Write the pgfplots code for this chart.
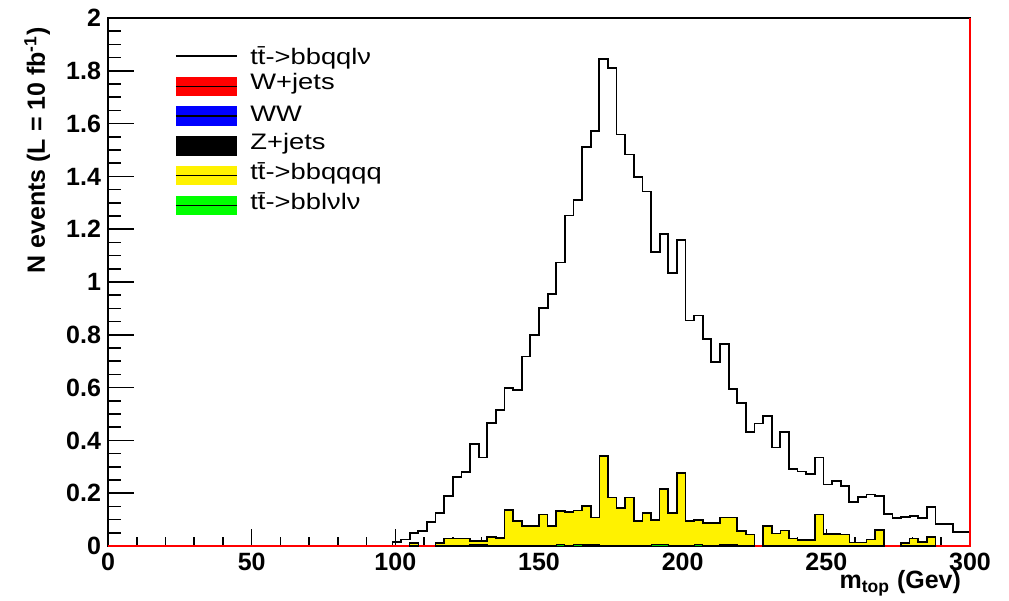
\documentclass[border=0pt]{standalone}
\usepackage{fontspec}
\setmainfont{Liberation Sans}
\newfontfamily\legendfont[FakeStretch=1.22]{Liberation Sans}
\usepackage{pgfplots}
\pgfplotsset{compat=1.18}
\usepackage{pgfplotstable}

% signal: tt -> bbqqlv, 3 GeV bins (left edge, content)
\pgfplotstableread{
x y
96 0
99 0.016
102 0.025
105 0.050
108 0.057
111 0.092
114 0.124
117 0.189
120 0.260
123 0.279
126 0.387
129 0.335
132 0.466
135 0.514
138 0.600
141 0.590
144 0.718
147 0.799
150 0.901
153 0.955
156 1.074
159 1.252
162 1.311
165 1.511
168 1.572
171 1.846
174 1.812
177 1.559
180 1.483
183 1.399
186 1.343
189 1.113
192 1.182
195 1.033
198 1.160
201 0.854
204 0.873
207 0.785
210 0.697
213 0.766
216 0.596
219 0.541
222 0.432
225 0.464
228 0.493
231 0.373
234 0.432
237 0.292
240 0.282
243 0.272
246 0.335
249 0.233
252 0.246
255 0.227
258 0.167
261 0.186
264 0.195
267 0.189
270 0.120
273 0.105
276 0.111
279 0.115
282 0.105
285 0.149
288 0.083
291 0.083
294 0.054
297 0.054
300 0.054
300 0
}\signal

\begin{document}
\begin{tikzpicture}
\useasboundingbox (-54pt,-27.5pt) rectangle (450.5pt,273pt);
\begin{axis}[
  width=431pt, height=264pt, scale only axis,
  xmin=0, xmax=300, ymin=0, ymax=2,
  xtick={0,50,100,150,200,250,300}, minor x tick num=4,
  ytick={0,0.2,0.4,0.6,0.8,1,1.2,1.4,1.6,1.8,2}, minor y tick num=3,
  tick align=inside, tick pos=left,
  axis line style={black, line width=1pt},
  tick style={black, line width=0.8pt},
  xtick style={/pgfplots/major tick length=8.5pt, /pgfplots/minor tick length=4.5pt},
  ytick style={/pgfplots/major tick length=13pt, /pgfplots/minor tick length=6.5pt},
  /pgf/number format/assume math mode=true,
  ticklabel style={font=\bfseries\fontsize{12.5}{15}\selectfont},
  yticklabel style={/pgf/number format/fixed, /pgf/number format/precision=1},
  xlabel={\bfseries m\textsubscript{top} (Gev)},
  ylabel={\bfseries N events (L = 10 fb\textsuperscript{-1})},
  label style={font=\bfseries\fontsize{12.5}{15}\selectfont},
  xlabel style={at={(axis description cs:0.9977,-0.0814)}, anchor=base east},
  ylabel style={at={(axis description cs:-0.0731,0.996)}, anchor=base east},
  clip=false,
]
% tt -> bbqqlv
\addplot[const plot, black, line width=0.9pt] table[x=x, y=y] {\signal};
% W+jets (empty)
\addplot[red, line width=1pt] coordinates {(0,0) (300,0) (300,2)};
% tt -> bbqqqq
\addplot[const plot, fill=yellow, draw=black, line width=0.8pt]
  coordinates {(105,0.011) (108,0.011)} \closedcycle;
\addplot[const plot, fill=yellow, draw=black, line width=0.8pt]
  coordinates {(114,0.011) (117,0.028) (120,0.028) (123,0.028) (126,0.020)
  (129,0.020) (132,0.034) (135,0.030) (138,0.137) (141,0.095) (144,0.076)
  (147,0.076) (150,0.120) (153,0.076) (156,0.132) (159,0.128) (162,0.134)
  (165,0.151) (168,0.108) (171,0.341) (174,0.184) (177,0.143) (180,0.184)
  (183,0.095) (186,0.126) (189,0.098) (192,0.217) (195,0.126) (198,0.276)
  (201,0.095) (204,0.098) (207,0.088) (210,0.088) (213,0.108) (216,0.108)
  (219,0.056) (222,0.044) (225,0.044)} \closedcycle;
\addplot[const plot, fill=yellow, draw=black, line width=0.8pt]
  coordinates {(228,0.076) (231,0.047) (234,0.058) (237,0.029) (240,0.022)
  (243,0.022) (246,0.120) (249,0.046) (252,0.046) (255,0.044) (258,0.013)
  (261,0.013) (264,0.025) (267,0.060) (270,0.060)} \closedcycle;
\addplot[const plot, fill=yellow, draw=black, line width=0.8pt]
  coordinates {(276,0.012) (279,0.029) (282,0.016) (285,0.035) (288,0.035)} \closedcycle;
% Z+jets
\addplot[const plot, fill=black, draw=black, line width=0.6pt]
  coordinates {(126,0.004) (132,0.004)} \closedcycle;
\addplot[const plot, fill=black, draw=black, line width=0.6pt]
  coordinates {(165,0.005) (171,0.005)} \closedcycle;
\addplot[const plot, fill=black, draw=black, line width=0.6pt]
  coordinates {(213,0.006) (219,0.006)} \closedcycle;
% tt -> bblvlv
\addplot[const plot, fill=green!80!black, draw=black, line width=0.4pt]
  coordinates {(156,0.006) (159,0.006)} \closedcycle;
\addplot[const plot, fill=green!80!black, draw=black, line width=0.4pt]
  coordinates {(162,0.006) (165,0.006)} \closedcycle;
\addplot[const plot, fill=green!80!black, draw=black, line width=0.4pt]
  coordinates {(189,0.006) (195,0.006)} \closedcycle;
\addplot[const plot, fill=green!80!black, draw=black, line width=0.4pt]
  coordinates {(204,0.006) (207,0.006)} \closedcycle;
\end{axis}

% legend
\begin{scope}[font=\legendfont\fontsize{11.2}{13}\selectfont]
\draw[black, line width=0.8pt] (34pt,245pt) -- (64.3pt,245pt);
\node[anchor=base west, inner sep=0pt] at (71pt,240.9pt) {t\=t->bbqqlν};
\fill[red] (34pt,224.8pt) rectangle (64.3pt,234.5pt);
\draw[black, line width=0.8pt] (34pt,229.65pt) -- (64.3pt,229.65pt);
\node[anchor=base west, inner sep=0pt] at (71pt,228pt) {W+jets};
\fill[blue] (34pt,210pt) rectangle (64.3pt,220pt);
\draw[black, line width=0.8pt] (34pt,215pt) -- (64.3pt,215pt);
\node[anchor=base west, inner sep=0pt] at (71pt,212.2pt) {WW};
\fill[black] (34pt,195pt) rectangle (64.3pt,205pt);
\node[anchor=base west, inner sep=0pt] at (71pt,198pt) {Z+jets};
\fill[yellow] (34pt,180.3pt) rectangle (64.3pt,190pt);
\draw[black, line width=0.8pt] (34pt,185.15pt) -- (64.3pt,185.15pt);
\node[anchor=base west, inner sep=0pt] at (71pt,183pt) {t\=t->bbqqqq};
\fill[green] (34pt,165.3pt) rectangle (64.3pt,175pt);
\draw[black, line width=0.8pt] (34pt,170.15pt) -- (64.3pt,170.15pt);
\node[anchor=base west, inner sep=0pt] at (71pt,168pt) {t\=t->bblνlν};
\end{scope}
\end{tikzpicture}
\end{document}
